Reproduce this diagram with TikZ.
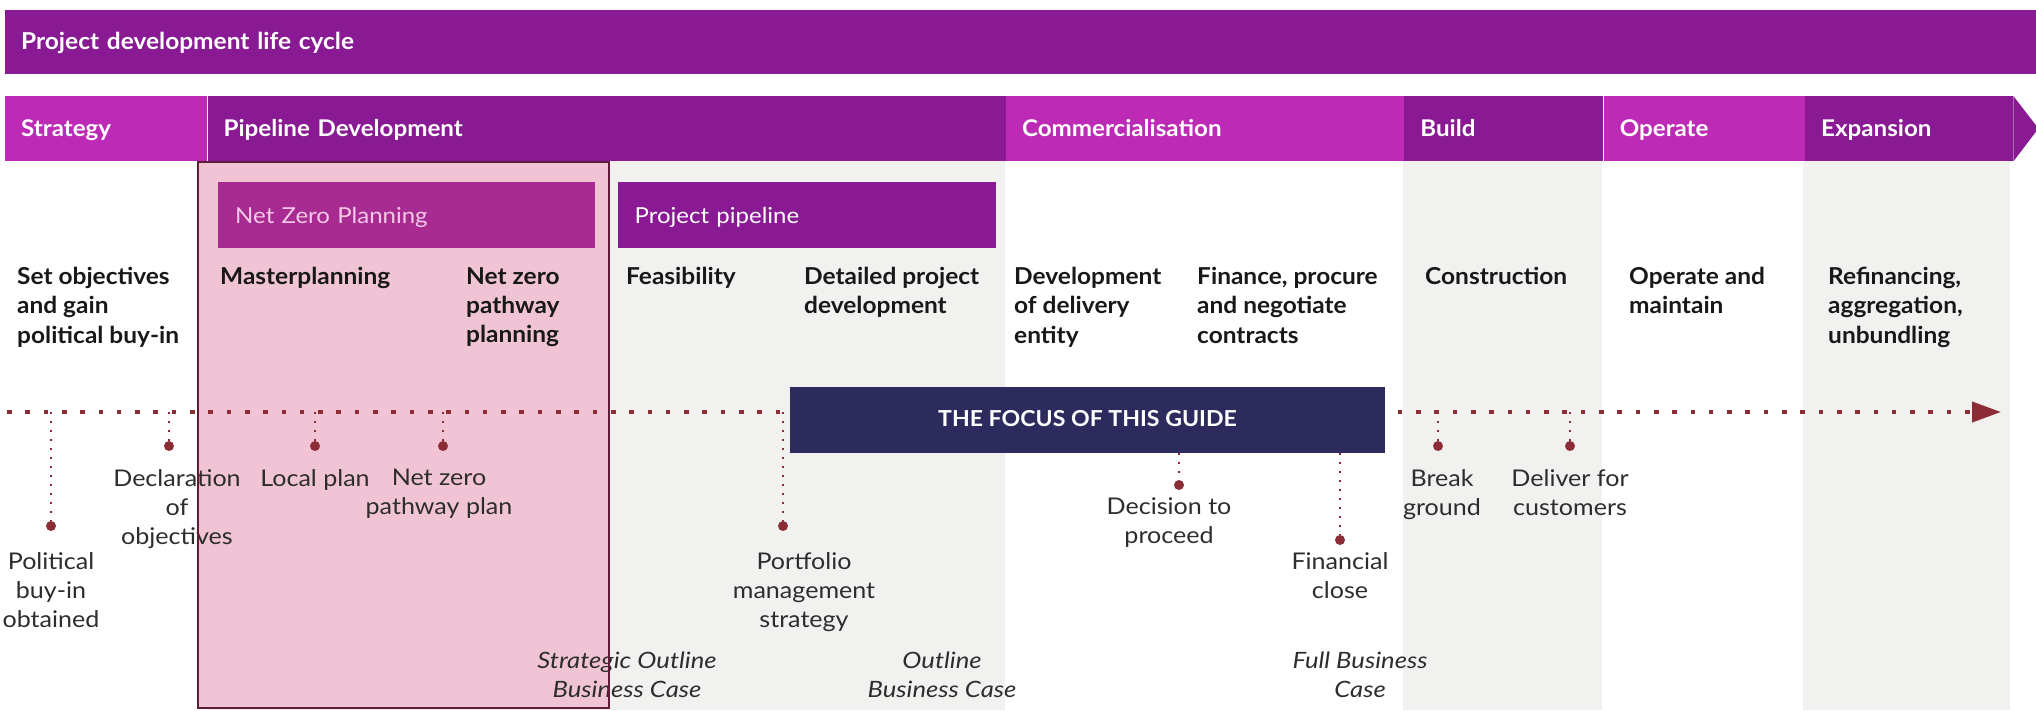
\documentclass[tikz,border=0pt]{standalone}
\usepackage{fontspec}
\setmainfont{Lato}[UprightFeatures={FakeStretch=1.09},BoldFeatures={FakeStretch=1.05},ItalicFeatures={FakeStretch=1.14}]
\usetikzlibrary{positioning,arrows.meta}

\definecolor{lifePurple}{RGB}{137,26,148}
\definecolor{lifeLight}{RGB}{189,42,182}
\definecolor{nzBar}{RGB}{168,43,146}
\definecolor{nzText}{RGB}{246,201,232}
\definecolor{nzPink}{RGB}{240,196,212}
\definecolor{nzEdge}{RGB}{94,28,56}
\definecolor{colGray}{RGB}{241,241,240}
\definecolor{focusNavy}{RGB}{45,43,94}
\definecolor{lineRed}{RGB}{140,45,54}
\definecolor{inkDark}{RGB}{24,24,24}
\definecolor{inkGray}{RGB}{45,45,45}

\begin{document}
\begin{tikzpicture}[x=1pt,y=-1pt,
    bar/.style={anchor=north west,inner xsep=16pt,inner ysep=0pt,align=left,minimum height=65pt,
      text height=17pt,text depth=2pt,text=white,font=\fontsize{23}{28}\selectfont\bfseries},
    subbar/.style={bar,inner xsep=17pt,minimum height=66pt,text depth=1pt,font=\fontsize{22}{28}\selectfont},
    head/.style={anchor=north west,inner sep=0pt,align=left,text=inkDark,font=\fontsize{23.3}{29.3}\selectfont\bfseries},
    focus/.style={fill=focusNavy,text=white,minimum width=595pt,minimum height=66pt,
      text height=16.5pt,text depth=4.5pt,font=\fontsize{22}{28}\selectfont\bfseries},
    timeline/.style={lineRed,line width=4pt,dash pattern=on 4.6pt off 13.7pt},
    drop/.style={lineRed,line width=2.2pt,dash pattern=on 2.2pt off 6.8pt},
    pin/.style={circle,fill=lineRed,inner sep=0pt,minimum size=10pt},
    mile/.style={anchor=north,inner sep=0pt,align=center,text=inkGray,font=\fontsize{23}{29}\selectfont},
    case/.style={mile,font=\fontsize{22.5}{29}\selectfont\itshape}]

  \useasboundingbox (0,0) rectangle (2036,710);

  \fill[colGray] (207,161) rectangle (1005,710);
  \fill[colGray] (1403,161) rectangle (1602,710);
  \fill[colGray] (1803,161) rectangle (2010,710);

  \node[bar,fill=lifePurple,text width=1999pt,minimum height=64pt,text height=18pt,text depth=4pt,
    font=\fontsize{23.3}{28}\selectfont\bfseries] (title) at (5,10) {Project development life cycle};

  \node[bar,fill=lifeLight,text width=170pt] (strategy) at (5,96) {Strategy};
  \node[bar,fill=lifePurple,text width=766pt,right=0pt of strategy] (pipeline) {Pipeline Development};
  \node[bar,fill=lifeLight,text width=366pt,right=0pt of pipeline] (commercial) {Commercialisation};
  \node[bar,fill=lifePurple,text width=167pt,right=0pt of commercial] (build) {Build};
  \node[bar,fill=lifeLight,text width=169pt,right=0pt of build] (operate) {Operate};
  \node[bar,fill=lifePurple,text width=176pt,right=0pt of operate] (expansion) {Expansion};
  \fill[lifePurple] (expansion.north east) -- ++(25,32.5) -- (expansion.south east) -- cycle;

  \fill[nzPink] (198,162) rectangle (609,708);

  \node[subbar,fill=nzBar,text=nzText,text width=343pt] (nzp) at (218,182) {Net Zero Planning};
  \node[subbar,fill=lifePurple,text width=344pt,right=22pt of nzp] (projpipe) {Project pipeline};

  \node[head] (setobj) at (17,267) {Set objectives\\and gain\\political buy-in};
  \node[head] (master) at (220,267) {Masterplanning};
  \node[head] (nzpath) at (466,267) {Net zero\\pathway\\planning};
  \node[head] (feas) at (626,267) {Feasibility};
  \node[head] (detail) at (804,267) {Detailed project\\development};
  \node[head] (entity) at (1014,267) {Development\\of delivery\\entity};
  \node[head] (finance) at (1197,267) {Finance, procure\\and negotiate\\contracts};
  \node[head] (construct) at (1425,267) {Construction};
  \node[head] (maintain) at (1629,267) {Operate and\\maintain};
  \node[head] (refin) at (1828,267) {Refinancing,\\aggregation,\\unbundling};

  \coordinate (tlstart) at (7,412);
  \coordinate (tlend) at (2001,412);
  \node[focus] (focus) at (1087.5,420) {THE FOCUS OF THIS GUIDE};
  \draw[timeline] (tlstart) -- (focus.west |- tlstart);
  \draw[timeline,dash phase=5.8pt,-{Triangle[length=29pt,width=20pt]}] (focus.east |- tlstart) -- (tlend);

  \node[pin] (p1) at (51,526) {};
  \node[pin] (p2) at (169,446) {};
  \node[pin] (p3) at (315,446) {};
  \node[pin] (p4) at (443,446) {};
  \node[pin] (p5) at (783,526) {};
  \node[pin] (p6) at (1179,485) {};
  \node[pin] (p7) at (1340,540) {};
  \node[pin] (p8) at (1438,446) {};
  \node[pin] (p9) at (1570,446) {};

  \draw[drop] (p1 |- tlstart) -- (p1);
  \draw[drop] (p2 |- tlstart) -- (p2);
  \draw[drop] (p3 |- tlstart) -- (p3);
  \draw[drop] (p4 |- tlstart) -- (p4);
  \draw[drop] (p5 |- tlstart) -- (p5);
  \draw[drop] (p6 |- focus.south) -- (p6);
  \draw[drop] (p7 |- focus.south) -- (p7);
  \draw[drop] (p8 |- tlstart) -- (p8);
  \draw[drop] (p9 |- tlstart) -- (p9);

  \node[mile,below=21pt of p1] (buyin) {Political\\buy-in\\obtained};
  \node[mile,below=18pt of p2,xshift=8pt] (declare) {Declaration\\of\\objectives};
  \node[mile,below=18pt of p3] (localplan) {Local plan};
  \node[mile,below=18pt of p4,xshift=-4pt] (nzplan) {Net zero\\pathway plan};
  \node[mile,below=21pt of p5,xshift=21pt] (portfolio) {Portfolio\\management\\strategy};
  \node[mile,below=7pt of p6,xshift=-10pt] (decision) {Decision to\\proceed};
  \node[mile,below=7pt of p7] (finclose) {Financial\\close};
  \node[mile,below=18pt of p8,xshift=4pt] (ground) {Break\\ground};
  \node[mile,below=18pt of p9] (deliver) {Deliver for\\customers};

  \node[case] (soc) at (627,652) {Strategic Outline\\Business Case};
  \node[case] (obc) at (942,652) {Outline\\Business Case};
  \node[case] (fbc) at (1360,652) {Full Business\\Case};

  \draw[nzEdge,line width=2.5pt] (198,162) rectangle (609,708);
\end{tikzpicture}
\end{document}
